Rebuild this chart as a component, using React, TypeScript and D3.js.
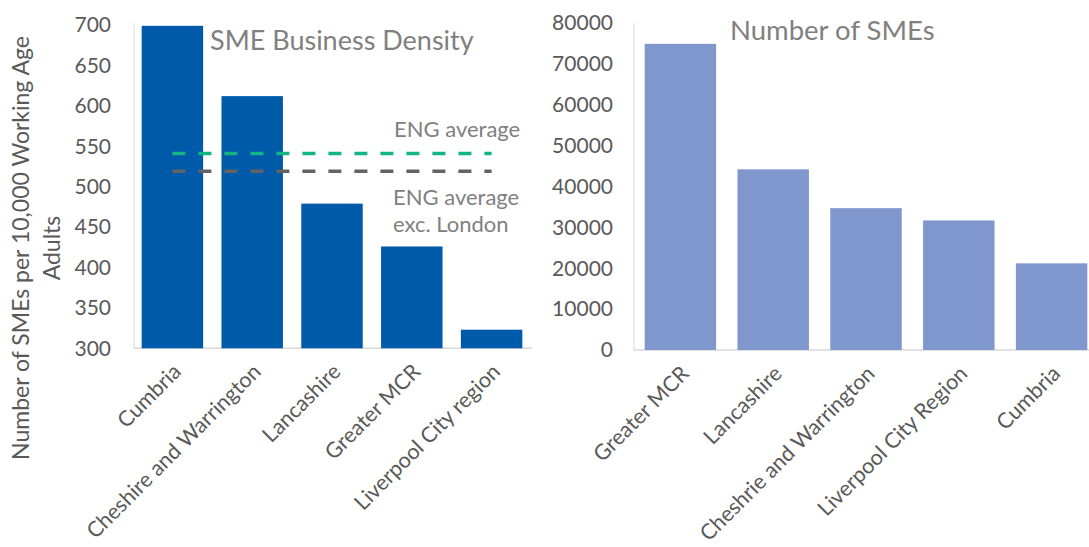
import React from "react";
import * as d3 from "d3";

const densityCategories = ["Cumbria", "Cheshire and Warrington", "Lancashire", "Greater MCR", "Liverpool City region"];
const densityValues = [699, 612, 479, 426, 323];
const engAverage = 541;
const engAverageExLondon = 519;
const densityTicks = [300, 350, 400, 450, 500, 550, 600, 650, 700];

const smeCategories = ["Greater MCR", "Lancashire", "Cheshrie and Warrington", "Liverpool City Region", "Cumbria"];
const smeValues = [74900, 44200, 34700, 31700, 21200];
const smeTicks = [0, 10000, 20000, 30000, 40000, 50000, 60000, 70000, 80000];

const FONT = "Lato, 'Open Sans', sans-serif";
const TEXT = "#595959";
const AXIS = "#D9D9D9";

export default function App() {
  const W = 1089, H = 547;

  // Left chart
  const lx = d3.scaleBand<string>().domain(densityCategories).range([132.5, 531.5]).paddingInner(0.23).paddingOuter(0.115);
  const ly = d3.scaleLinear().domain([300, 700]).range([348.3, 25]);

  // Right chart
  const rx = d3.scaleBand<string>().domain(smeCategories).range([634, 1098]).paddingInner(0.23).paddingOuter(0.115);
  const ry = d3.scaleLinear().domain([0, 80000]).range([350, 23]);

  const line = d3.line<[number, number]>().x(d => d[0]).y(d => d[1]);
  const lineStart = lx(densityCategories[0])! + lx.bandwidth() / 2;
  const lineEnd = lx(densityCategories[densityCategories.length - 1])! + lx.bandwidth() / 2;

  return (
    <svg width={W} height={H} style={{ position: "absolute", left: 0, top: 0, background: "#fff" }} fontFamily={FONT}>
      {/* Left y label */}
      <g transform="translate(0,248) rotate(-90)">
        <text x={0} y={29} textAnchor="middle" fontSize={23} fill={TEXT}>Number of SMEs per 10,000 Working Age</text>
        <text x={0} y={60} textAnchor="middle" fontSize={23} fill={TEXT}>Adults</text>
      </g>

      {/* Left axis */}
      <line x1={134} x2={134} y1={ly(700) - 2} y2={ly(300)} stroke={AXIS} strokeWidth={1} />
      <line x1={134} x2={532} y1={ly(300)} y2={ly(300)} stroke={AXIS} strokeWidth={1.5} />
      {densityTicks.map(t => (
        <text key={t} x={111} y={ly(t)} dy="0.35em" textAnchor="end" fontSize={21} fill={TEXT}>{t}</text>
      ))}
      {densityCategories.map((c, i) => (
        <rect key={c} x={lx(c)} y={ly(densityValues[i])} width={lx.bandwidth()} height={ly(300) - ly(densityValues[i])} fill="#005AAA" />
      ))}
      <path d={line([[lineStart, ly(engAverage)], [lineEnd, ly(engAverage)]])!} stroke="#13B587" strokeWidth={3.5} strokeDasharray="13 13" fill="none" />
      <path d={line([[lineStart, ly(engAverageExLondon)], [lineEnd, ly(engAverageExLondon)]])!} stroke="#636363" strokeWidth={3.5} strokeDasharray="13 13" fill="none" />
      <text x={210} y={50} fontSize={27} fill="#808080">SME Business Density</text>
      <text x={394} y={137} fontSize={22} fill="#808080">ENG average</text>
      <text x={393} y={205} fontSize={22} fill="#808080">ENG average</text>
      <text x={393} y={232} fontSize={22} fill="#808080">exc. London</text>
      {densityCategories.map(c => {
        const cx = lx(c)! + lx.bandwidth() / 2 + 10;
        return (
          <text key={c} transform={`translate(${cx},${373}) rotate(-45)`} textAnchor="end" fontSize={21.5} fill={TEXT}>{c}</text>
        );
      })}

      {/* Right axis */}
      <line x1={634} x2={634} y1={ry(80000)} y2={ry(0)} stroke={AXIS} strokeWidth={1} />
      <line x1={634} x2={W} y1={ry(0)} y2={ry(0)} stroke={AXIS} strokeWidth={1.5} />
      {smeTicks.map(t => (
        <text key={t} x={613} y={ry(t)} dy="0.35em" textAnchor="end" fontSize={21} fill={TEXT}>{t}</text>
      ))}
      {smeCategories.map((c, i) => (
        <rect key={c} x={rx(c)} y={ry(smeValues[i])} width={rx.bandwidth()} height={ry(0) - ry(smeValues[i])} fill="#8097CE" />
      ))}
      <text x={730} y={40} fontSize={27.5} fill="#808080">Number of SMEs</text>
      {smeCategories.map(c => {
        const cx = rx(c)! + rx.bandwidth() / 2 + 10;
        return (
          <text key={c} transform={`translate(${cx},${375}) rotate(-45)`} textAnchor="end" fontSize={21.5} fill={TEXT}>{c}</text>
        );
      })}
    </svg>
  );
}
